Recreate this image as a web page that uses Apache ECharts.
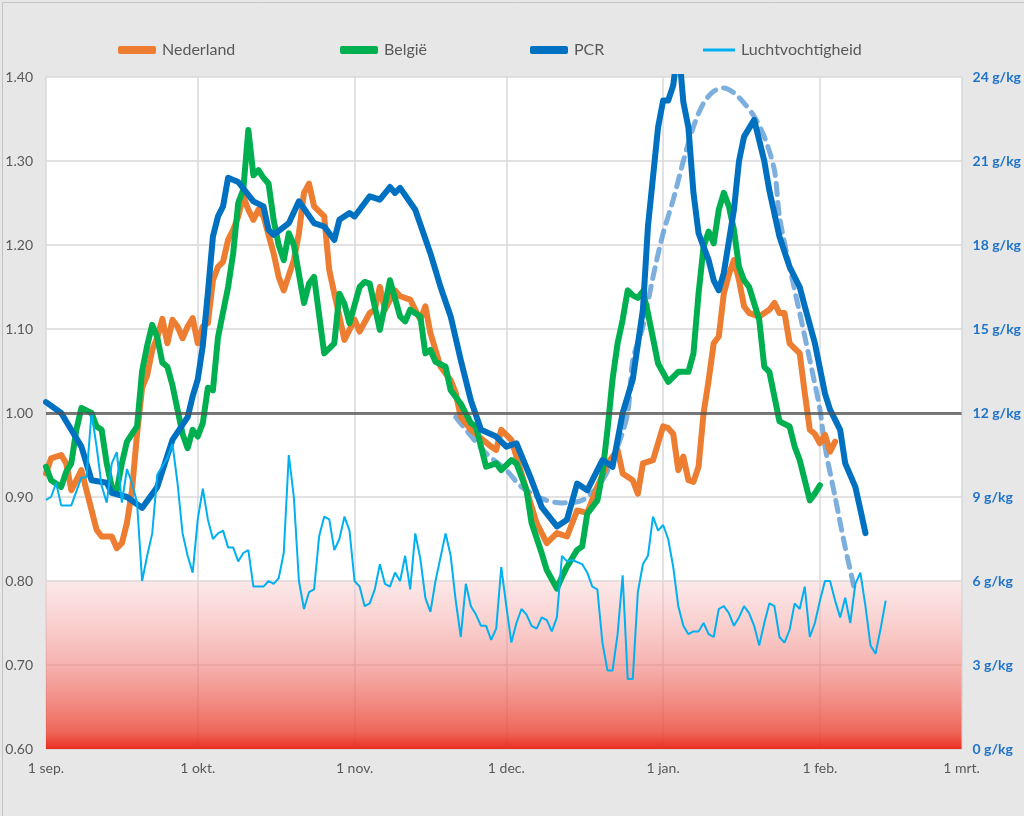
<!DOCTYPE html>
<html>
<head>
<meta charset="utf-8">
<script src="https://cdn.jsdelivr.net/npm/echarts@6/dist/echarts.min.js"></script>
<style>
  html, body { margin: 0; padding: 0; background: #e7e7e7; }
  #main { width: 1024px; height: 816px; }
</style>
</head>
<body>
<div id="main"></div>
<script>
// dagen vanaf 1 sep 2020 t/m 1 mrt 2021
var maanden = ['jan.', 'feb.', 'mrt.', 'apr.', 'mei', 'jun.', 'jul.', 'aug.', 'sep.', 'okt.', 'nov.', 'dec.'];
var dagen = [];
for (var i = 0; i <= 181; i++) {
    var d = new Date(2020, 8, 1 + i);
    dagen.push(d.getFullYear() + '-' + (d.getMonth() + 1) + '-' + d.getDate());
}

var leftTicks = [0.6, 1.4, 0.1];   // min, max, stap
var rightTicks = [0, 24, 3];

// [dag, waarde]
var nederland = [[0,0.928],[1,0.946],[3,0.95],[4,0.94],[5,0.908],[7,0.932],[8,0.908],[10,0.861],[11,0.853],[13,0.853],
    [14,0.839],[15,0.845],[16,0.869],[17,0.908],[18,0.975],[19,1.03],[20,1.045],[21,1.075],[22,1.09],[23,1.112],
    [24,1.083],[25,1.111],[26,1.103],[27,1.089],[28,1.103],[29,1.113],[30,1.083],[31,1.103],[32,1.107],[33,1.158],
    [34,1.174],[35,1.18],[36,1.206],[37,1.218],[38,1.234],[39,1.258],[40,1.242],[41,1.23],[42,1.242],[43,1.234],
    [45,1.19],[46,1.162],[47,1.146],[49,1.182],[50,1.214],[51,1.262],[52,1.273],[53,1.246],[55,1.234],[56,1.17],
    [57,1.142],[58,1.115],[59,1.087],[61,1.111],[62,1.097],[64,1.119],[65,1.123],[66,1.15],[67,1.123],[69,1.146],
    [70,1.139],[72,1.135],[74,1.111],[75,1.127],[76,1.095],[78,1.055],[80,1.039],[81,1.024],[82,0.995],[84,0.98],
    [86,0.97],[88,0.96],[89,0.956],[90,0.98],[92,0.968],[93,0.948],[95,0.908],[97,0.869],[99,0.845],[101,0.857],
    [103,0.853],[105,0.884],[107,0.881],[109,0.912],[111,0.94],[113,0.956],[114,0.928],[116,0.92],[117,0.904],
    [118,0.94],[120,0.944],[122,0.984],[123,0.982],[124,0.975],[125,0.932],[126,0.948],[127,0.92],[128,0.918],
    [129,0.936],[130,1.0],[131,1.039],[132,1.083],[133,1.091],[134,1.142],[135,1.165],[136,1.182],[137,1.158],
    [138,1.127],[139,1.119],[141,1.115],[143,1.123],[144,1.131],[145,1.119],[146,1.119],[147,1.083],[149,1.071],
    [150,1.024],[151,0.98],[152,0.975],[153,0.964],[154,0.974],[155,0.954],[156,0.966]];

var belgie = [[0,0.936],[1,0.92],[3,0.912],[4,0.93],[5,0.94],[6,0.98],[7,1.006],[9,1.0],[10,0.984],[11,0.98],
    [12,0.94],[13,0.912],[14,0.908],[15,0.94],[16,0.966],[18,0.984],[19,1.05],[20,1.08],[21,1.105],[22,1.09],
    [23,1.06],[24,1.055],[25,1.033],[26,1.004],[27,0.975],[28,0.958],[29,0.98],[30,0.972],[31,0.988],[32,1.03],
    [33,1.027],[34,1.09],[35,1.12],[36,1.15],[37,1.19],[38,1.25],[39,1.266],[40,1.337],[41,1.283],[42,1.289],
    [43,1.28],[44,1.273],[45,1.23],[46,1.2],[47,1.182],[48,1.214],[49,1.2],[51,1.131],[52,1.154],[53,1.162],
    [55,1.071],[57,1.083],[58,1.142],[59,1.13],[60,1.107],[62,1.15],[63,1.156],[64,1.154],[66,1.099],[68,1.158],
    [70,1.115],[71,1.109],[72,1.123],[74,1.115],[75,1.071],[76,1.075],[77,1.061],[79,1.055],[80,1.027],[82,1.011],
    [84,0.988],[85,0.984],[87,0.936],[89,0.94],[90,0.932],[92,0.944],[93,0.94],[95,0.908],[96,0.869],[98,0.833],
    [99,0.813],[101,0.791],[102,0.805],[103,0.817],[105,0.837],[106,0.841],[107,0.88],[109,0.896],[110,0.928],
    [111,0.98],[112,1.04],[113,1.083],[114,1.111],[115,1.146],[116,1.14],[117,1.137],[118,1.145],[119,1.119],
    [121,1.059],[123,1.037],[125,1.049],[127,1.049],[128,1.071],[129,1.142],[130,1.198],[131,1.216],[132,1.202],
    [133,1.242],[134,1.262],[135,1.246],[136,1.218],[137,1.174],[138,1.158],[139,1.15],[141,1.111],[142,1.055],
    [143,1.049],[145,0.99],[147,0.984],[148,0.96],[149,0.944],[150,0.92],[151,0.896],[152,0.904],[153,0.914]];

var pcr = [[0,1.013],[3,1.0],[5,0.98],[7,0.96],[9,0.92],[12,0.917],[13,0.905],[16,0.9],[19,0.887],[22,0.912],
    [25,0.968],[28,0.995],[29,1.02],[30,1.04],[31,1.08],[32,1.143],[33,1.21],[34,1.234],[35,1.246],[36,1.28],
    [38,1.275],[41,1.252],[43,1.246],[44,1.218],[45,1.212],[48,1.226],[50,1.252],[53,1.226],[55,1.222],[57,1.206],
    [58,1.23],[60,1.238],[61,1.234],[64,1.258],[66,1.254],[68,1.269],[69,1.262],[70,1.268],[73,1.242],[76,1.19],
    [78,1.15],[80,1.115],[82,1.063],[84,1.015],[86,0.98],[89,0.972],[91,0.96],[93,0.964],[96,0.92],[98,0.888],
    [101,0.865],[103,0.873],[105,0.916],[107,0.908],[110,0.944],[112,0.936],[114,1.0],[116,1.04],[118,1.123],
    [119,1.222],[121,1.34],[122,1.372],[123,1.372],[124,1.39],[125,1.44],[126,1.37],[127,1.34],[128,1.262],
    [129,1.214],[131,1.182],[132,1.158],[133,1.146],[134,1.167],[136,1.242],[137,1.3],[138,1.329],[140,1.349],
    [142,1.3],[143,1.265],[145,1.21],[147,1.174],[149,1.15],[150,1.127],[152,1.083],[154,1.023],[155,1.004],
    [157,0.98],[158,0.94],[160,0.912],[161,0.885],[162,0.857]];

var pcrTrend = [[81,0.995],[87,0.952],[91,0.932],[94,0.912],[98,0.898],[102,0.893],[106,0.896],[110,0.92],
    [113,0.96],[115,1.0],[116,1.063],[118,1.103],[120,1.162],[122,1.214],[124,1.254],[126,1.3],[128,1.341],
    [130,1.369],[132,1.383],[134,1.387],[136,1.381],[138,1.369],[140,1.353],[142,1.329],[144,1.289],[145,1.234],
    [147,1.174],[149,1.119],[151,1.063],[153,1.004],[154,0.96],[156,0.9],[158,0.84],[160,0.786]];

// g/kg
var vocht = [[0,8.9],[1,9.0],[2,9.5],[3,8.7],[5,8.7],[6,9.2],[7,9.7],[8,9.7],[9,12.0],[10,10.8],[11,9.4],[12,8.8],
    [13,10.2],[14,10.6],[15,8.8],[16,10.0],[17,9.5],[18,8.8],[19,6.0],[20,6.9],[21,7.7],[22,9.8],[24,10.4],[25,10.9],
    [26,9.5],[27,7.7],[28,6.9],[29,6.3],[30,8.2],[31,9.3],[32,8.2],[33,7.5],[34,7.7],[35,7.8],[36,7.2],[37,7.2],
    [38,6.7],[39,7.0],[40,7.1],[41,5.8],[43,5.8],[44,6.0],[45,5.9],[46,6.1],[47,7.0],[48,10.5],[49,9.0],[50,6.0],
    [51,5.0],[52,5.6],[53,5.7],[54,7.6],[55,8.3],[56,8.2],[57,7.1],[58,7.5],[59,8.3],[60,7.8],[61,6.0],[62,5.8],
    [63,5.1],[64,5.2],[65,5.7],[66,6.6],[67,5.9],[68,5.8],[69,6.3],[70,6.0],[71,6.9],[72,5.7],[73,7.7],[74,6.8],
    [75,5.4],[76,4.9],[77,6.0],[79,7.7],[80,6.9],[81,5.3],[82,4.0],[83,5.9],[84,5.1],[85,4.8],[86,4.4],[87,4.4],
    [88,3.9],[89,4.3],[90,6.5],[91,5.1],[92,3.8],[93,4.5],[94,5.0],[95,4.8],[96,4.4],[97,4.3],[98,4.7],[99,4.6],
    [100,4.2],[101,4.7],[102,6.9],[103,6.7],[104,6.75],[106,6.6],[107,6.3],[108,5.8],[109,5.7],[110,3.8],[111,2.8],
    [112,2.8],[113,4.1],[114,6.2],[115,2.5],[116,2.5],[117,5.6],[118,6.6],[119,6.9],[120,8.3],[121,7.8],[122,8.0],
    [123,7.5],[124,6.5],[125,5.1],[126,4.4],[127,4.1],[128,4.2],[129,4.2],[130,4.5],[131,4.1],[132,4.0],[133,5.0],
    [134,5.1],[135,4.85],[136,4.4],[137,4.7],[138,5.1],[139,4.85],[140,4.4],[141,3.7],[142,4.5],[143,5.2],[144,5.1],
    [145,4.0],[146,3.8],[147,4.25],[148,5.2],[149,5.0],[150,5.8],[151,4.0],[152,4.5],[153,5.3],[154,6.0],[155,6.0],
    [156,5.3],[157,4.7],[158,5.4],[159,4.5],[160,5.9],[161,6.3],[162,5.1],[163,3.7],[164,3.4],[165,4.3],[166,5.3]];

var legendNamen = ['Nederland', 'België', 'PCR', 'Luchtvochtigheid'];
var legendLeft = [113, 335, 525, 698];

var font = 'Lato';
var isMaandStart = function (idx, val) { return /-1$/.test(val); };

var myChart = echarts.init(document.getElementById('main'));
myChart.setOption({
    backgroundColor: '#e7e7e7',
    animation: false,
    textStyle: { fontFamily: font },
    graphic: [{
        type: 'rect', left: 0, top: 0, silent: true,
        shape: { width: 1023, height: 815 },
        style: { fill: 'none', stroke: '#c4c4c4', lineWidth: 1 }
    }],
    legend: legendNamen.map(function (n, k) {
        var dun = (n === 'Luchtvochtigheid');
        return {
            data: [n], left: legendLeft[k], top: 37,
            icon: dun ? 'rect' : 'roundRect',
            itemWidth: dun ? 32 : 38, itemHeight: dun ? 3 : 8,
            textStyle: { fontSize: 16, color: '#595959', fontFamily: font, padding: [0, 0, 0, 1] }
        };
    }),
    grid: {
        left: 46, right: 60, top: 77, bottom: 67,
        show: true, backgroundColor: '#ffffff', borderWidth: 0
    },
    xAxis: {
        type: 'category',
        data: dagen,
        boundaryGap: false,
        axisTick: { show: false },
        axisLine: { lineStyle: { color: '#d9d9d9' } },
        splitLine: { show: true, interval: isMaandStart, lineStyle: { color: '#d9d9d9', width: 1.5 } },
        axisLabel: {
            interval: isMaandStart,
            color: '#595959', fontSize: 14, margin: 12,
            formatter: function (v) {
                var p = v.split('-');
                return p[2] + ' ' + maanden[+p[1] - 1];
            }
        }
    },
    yAxis: [{
        type: 'value',
        min: leftTicks[0], max: leftTicks[1], interval: leftTicks[2],
        axisLine: { show: false }, axisTick: { show: false },
        splitLine: { lineStyle: { color: '#d9d9d9', width: 1.5 } },
        axisLabel: { color: '#595959', fontSize: 14, margin: 13, formatter: function (v) { return v.toFixed(2); } }
    }, {
        type: 'value',
        min: rightTicks[0], max: rightTicks[1], interval: rightTicks[2],
        axisLine: { show: false }, axisTick: { show: false },
        splitLine: { show: false },
        axisLabel: { color: '#1f74c9', fontSize: 14, fontWeight: 'bold', margin: 11, formatter: '{value} g/kg' }
    }],
    series: [
        {
            name: 'PCR trend', type: 'line', data: pcrTrend, symbol: 'none', smooth: 0.3,
            lineStyle: { color: '#5b9bd5', width: 5, type: [11, 8], opacity: 0.8, cap: 'round' },
            itemStyle: { color: '#5b9bd5' }
        },
        {
            name: 'Nederland', type: 'line', data: nederland, symbol: 'none',
            lineStyle: { color: '#ed7d31', width: 6, cap: 'round', join: 'round' },
            itemStyle: { color: '#ed7d31' },
            markArea: {
                silent: true,
                itemStyle: {
                    color: new echarts.graphic.LinearGradient(0, 0, 0, 1, [
                        { offset: 0, color: 'rgba(248,205,205,0.45)' },
                        { offset: 0.5, color: 'rgba(240,130,125,0.62)' },
                        { offset: 0.9, color: 'rgba(235,75,60,0.85)' },
                        { offset: 1, color: 'rgba(232,40,25,0.97)' }
                    ])
                },
                data: [[{ yAxis: 0.6 }, { yAxis: 0.8 }]]
            }
        },
        {
            name: 'België', type: 'line', data: belgie, symbol: 'none',
            lineStyle: { color: '#00b050', width: 6, cap: 'round', join: 'round' },
            itemStyle: { color: '#00b050' }
        },
        {
            name: 'PCR', type: 'line', data: pcr, symbol: 'none',
            lineStyle: { color: '#0070c0', width: 6, cap: 'round', join: 'round' },
            itemStyle: { color: '#0070c0' },
            markLine: {
                silent: true, symbol: 'none', label: { show: false },
                lineStyle: { color: 'rgba(80,80,80,0.75)', width: 3, type: 'solid' },
                data: [{ yAxis: 1 }]
            }
        },
        {
            name: 'Luchtvochtigheid', type: 'line', yAxisIndex: 1, data: vocht, symbol: 'none',
            lineStyle: { color: '#00b0f0', width: 2 },
            itemStyle: { color: '#00b0f0' }
        }
    ]
});
</script>
</body>
</html>
